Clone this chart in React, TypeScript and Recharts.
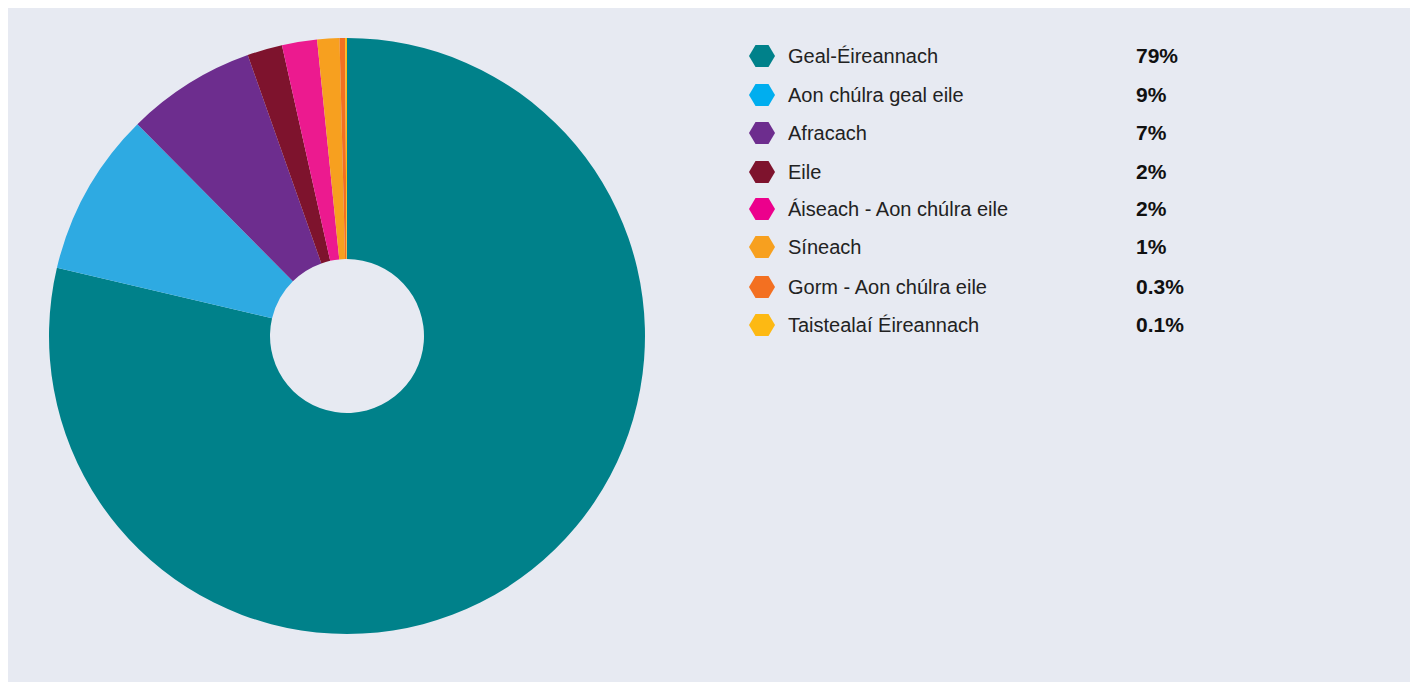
import React from "react";
import { PieChart, Pie, Cell, Legend } from "recharts";

const categories = [
  "Geal-Éireannach",
  "Aon chúlra geal eile",
  "Afracach",
  "Eile",
  "Áiseach - Aon chúlra eile",
  "Síneach",
  "Gorm - Aon chúlra eile",
  "Taistealaí Éireannach",
];
const values = [78.6, 8.9, 7.0, 1.9, 1.9, 1.2, 0.3, 0.1];
const valueLabels = ["79%", "9%", "7%", "2%", "2%", "1%", "0.3%", "0.1%"];
const sliceColors = ["#00818a", "#2eaae2", "#6d2d8e", "#7e132d", "#ec1a8f", "#f7a01f", "#f37021", "#fdb913"];
const legendColors = ["#00818a", "#00aeef", "#6d2d8e", "#7e132d", "#ec008c", "#f7a01f", "#f37021", "#fdb913"];

const data = categories.map((name, i) => ({ name, value: values[i] }));

const ROW_Y = [49, 88, 126, 165, 202, 240, 280, 318];

const LegendContent = () => (
  <div style={{ position: "relative", width: 1407, height: 675, pointerEvents: "none" }}>
    {categories.map((c, i) => (
      <React.Fragment key={c}>
        <svg
          width={28}
          height={24}
          style={{ position: "absolute", left: 741, top: ROW_Y[i] - 12 }}
        >
          <polygon points="1,12 7.5,1 20.5,1 27,12 20.5,23 7.5,23" fill={legendColors[i]} />
        </svg>
        <div
          style={{
            position: "absolute",
            left: 781,
            top: ROW_Y[i] - 13,
            height: 26,
            lineHeight: "26px",
            fontFamily: "'Liberation Sans', Arial, sans-serif",
            fontSize: 20,
            color: "#222",
            whiteSpace: "nowrap",
          }}
        >
          {c}
        </div>
        <div
          style={{
            position: "absolute",
            left: 1129,
            top: ROW_Y[i] - 13,
            height: 26,
            lineHeight: "26px",
            fontFamily: "'Liberation Sans', Arial, sans-serif",
            fontSize: 21,
            fontWeight: "bold",
            color: "#111",
            whiteSpace: "nowrap",
          }}
        >
          {valueLabels[i]}
        </div>
      </React.Fragment>
    ))}
  </div>
);

export default function App() {
  return (
    <div style={{ marginLeft: -1, marginTop: -1, width: 1407, height: 675, background: "#e7eaf2" }}>
      <PieChart width={1407} height={675} margin={{ top: 0, right: 0, bottom: 0, left: 0 }}>
        <Pie
          data={data}
          dataKey="value"
          nameKey="name"
          cx={340}
          cy={329}
          innerRadius={77}
          outerRadius={298}
          startAngle={90}
          endAngle={-270}
          stroke="none"
          isAnimationActive={false}
        >
          {data.map((d, i) => (
            <Cell key={d.name} fill={sliceColors[i]} />
          ))}
        </Pie>
        <Legend
          content={<LegendContent />}
          wrapperStyle={{ position: "absolute", left: 0, top: 0, width: 1407, height: 675 }}
        />
      </PieChart>
    </div>
  );
}
